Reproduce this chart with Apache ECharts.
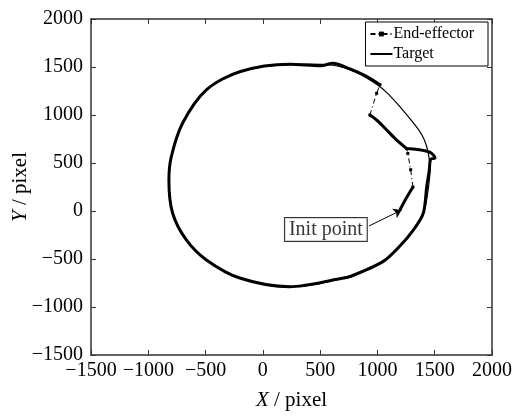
<!DOCTYPE html>
<html><head><meta charset="utf-8">
<script src="https://cdn.jsdelivr.net/npm/echarts@6/dist/echarts.min.js"></script>
<style>html,body{margin:0;padding:0;background:#fff}#c{width:515px;height:419px}</style>
</head><body><div id="c"></div>
<script>
// ---- data ----
const xTicks = [-1500, -1000, -500, 0, 500, 1000, 1500, 2000];
const yTicks = [-1500, -1000, -500, 0, 500, 1000, 1500, 2000];

const targetPts = [[1460,420],[1450,560],[1428,680],[1385,800],[1305,930],[1205,1075],[1110,1200],[1022,1295],[820,1440],[611,1518],[400,1530],[235,1525],[-202,1451],[-493,1262],[-700,917],[-799,566],[-820,323],[-788,-21],[-668,-302],[-493,-510],[-202,-698],[235,-789],[672,-705],[1051,-520],[1313,-200],[1400,-24],[1440,200],[1460,420]];

// dense (thick) parts of the end-effector trajectory, null = break
const eeDense = [[1196,10],[1250,130],[1310,250],null,
  [1255,650],[1150,760],[1060,870],[993,948],[934,1000],null,
  [1022,1315],[900,1405],[760,1480],[611,1539],[506,1512],[235,1528],[-202,1451],[-493,1262],[-700,917],[-799,566],[-820,323],[-788,-21],[-668,-302],[-493,-510],[-202,-698],[235,-789],[672,-705],[760,-684],[1051,-525],[1200,-360],[1313,-200],[1400,-24],[1430,253],[1452,420],[1465,540],[1503,552],[1460,610],[1350,640],[1255,650]];
// sparse (dash-dot) parts
const eeSparse = [[1310,250],[1290,430],[1265,600],[1255,650],null,[934,1000],[993,1226],[1022,1315]];

const initLabelPos = [550, -193];
const initArrow = [[926,-156],[1211,10]];

const FONT = "'Liberation Serif','Times New Roman',serif";
const chart = echarts.init(document.getElementById('c'));
const fmt = v => String(v).replace('-', '\u2212');
const axisCommon = {
  type:'value', min:-1500, max:2000, interval:500,
  axisLine:{show:true, onZero:false, lineStyle:{color:'#333', width:1.5}},
  axisTick:{show:true, inside:true, length:5, lineStyle:{color:'#333', width:1}},
  splitLine:{show:false}
};
const nameStyle = {color:'#000', fontFamily:FONT, fontSize:21, rich:{i:{fontStyle:'italic', fontFamily:FONT, fontSize:21, color:'#000'}}};
chart.setOption({
  animation:false,
  backgroundColor:'#fff',
  grid:{left:91, right:23, top:19, bottom:64, containLabel:false, outerBoundsMode:'none'},
  xAxis:[
    Object.assign({}, axisCommon, {position:'bottom',
      axisLabel:{color:'#000', fontFamily:FONT, fontSize:20, margin:6, formatter:fmt},
      name:'{i|X} / pixel', nameLocation:'middle', nameGap:35, nameMoveOverlap:false, nameTextStyle:nameStyle}),
    Object.assign({}, axisCommon, {position:'top', axisLabel:{show:false}})
  ],
  yAxis:[
    Object.assign({}, axisCommon, {position:'left',
      axisLabel:{color:'#000', fontFamily:FONT, fontSize:20, margin:8, formatter:fmt},
      name:'{i|Y} / pixel', nameLocation:'middle', nameGap:60, nameRotate:90, nameMoveOverlap:false, nameTextStyle:nameStyle}),
    Object.assign({}, axisCommon, {position:'right', axisLabel:{show:false}})
  ],
  legend:{
    orient:'vertical', right:27, top:22, itemWidth:22, itemHeight:6, itemGap:4,
    padding:[4,14,4,4],
    borderColor:'#000', borderWidth:1, backgroundColor:'#fff',
    textStyle:{fontFamily:FONT, fontSize:16, lineHeight:15, color:'#000', padding:[0,0,0,-4]},
    data:[{name:'End-effector'},{name:'Target', itemStyle:{opacity:0}}]
  },
  series:[
    {name:'End-effector', type:'line', data:eeSparse, connectNulls:false,
      symbol:'rect', symbolSize:3, showSymbol:true,
      itemStyle:{color:'#000'},
      lineStyle:{color:'#000', width:1, type:[5,3,1,3]}, z:3},
    {name:'End-effector', type:'line', data:eeDense, connectNulls:false, smooth:0.3,
      symbol:'none', lineStyle:{color:'#000', width:3}, z:3},
    {name:'Target', type:'line', data:targetPts, smooth:0.4, symbol:'none',
      lineStyle:{color:'#000', width:1.2}, itemStyle:{color:'#000'}, z:2},
    {name:'init', type:'scatter', data:[initLabelPos], symbol:'rect', symbolSize:1,
      itemStyle:{color:'rgba(0,0,0,0)'}, silent:true, z:5,
      label:{show:true, position:'inside', formatter:'Init point', fontFamily:FONT, fontSize:20, color:'#000',
        backgroundColor:'#fff', borderColor:'#000', borderWidth:1, padding:[2,4,1,4]},
      markLine:{silent:true, symbol:['none','arrow'], symbolSize:8,
        lineStyle:{color:'#000', width:1, type:'solid'}, label:{show:false},
        data:[[{coord:initArrow[0]},{coord:initArrow[1]}]]}}
  ]
});
</script></body></html>
